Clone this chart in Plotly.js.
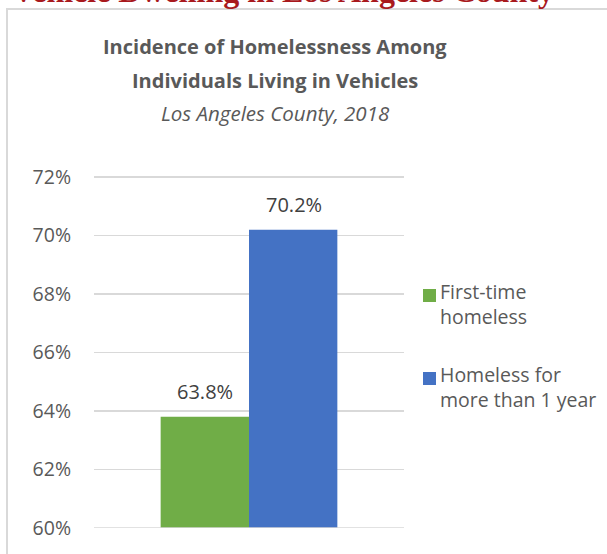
<!DOCTYPE html>
<html><head><meta charset="utf-8">
<script src="https://cdn.plot.ly/plotly-3.0.1.min.js"></script>
<style>html,body{margin:0;padding:0;background:#fff}#chart{width:607px;height:554px}</style>
</head><body><div id="chart"></div>
<script>
var categories = ["Vehicle dwellers"];
var seriesNames = ["First-time<br>homeless", "Homeless for<br>more than 1 year"];
var firstTime = [63.8];
var longTerm = [70.2];
var tickValues = [60, 62, 64, 66, 68, 70, 72];
var tickLabels = ["60%", "62%", "64%", "66%", "68%", "70%", "72%"];
var titleLines = ["Incidence of Homelessness Among", "Individuals Living in Vehicles"];
var subtitle = "Los Angeles County, 2018";
var headerText = "Vehicle Dwelling in Los Angeles County";

var colors = ["#70AD47", "#4472C4"];
var txt = "#595959";
var W = 607, H = 554;
function px(x){return x/W;}
function py(y){return (H-y)/H;}

var series = [firstTime, longTerm];
var traces = series.map(function(vals, i){
  return {type:"bar", x:categories, y:vals, name:seriesNames[i],
    marker:{color:colors[i], line:{width:0}}, showlegend:false, hoverinfo:"none"};
});

var annotations = [];
// header (cut off at top)
annotations.push({xref:"paper", yref:"paper", x:px(283), y:py(11), xanchor:"center", yanchor:"bottom",
  text:"<b>"+headerText+"</b>", showarrow:false,
  font:{family:"Liberation Serif", size:32, color:"#A8191D"}});
// titles
annotations.push({xref:"paper", yref:"paper", x:px(275), y:py(47), xanchor:"center", yanchor:"middle",
  text:"<b>"+titleLines[0]+"</b>", showarrow:false, font:{family:"Open Sans", size:20, color:txt}});
annotations.push({xref:"paper", yref:"paper", x:px(275), y:py(81), xanchor:"center", yanchor:"middle",
  text:"<b>"+titleLines[1]+"</b>", showarrow:false, font:{family:"Open Sans", size:20, color:txt}});
annotations.push({xref:"paper", yref:"paper", x:px(275), y:py(113), xanchor:"center", yanchor:"middle",
  text:"<i>"+subtitle+"</i>", showarrow:false, font:{family:"Open Sans", size:20.5, color:txt}});
// data labels
series.forEach(function(vals, i){
  vals.forEach(function(v, j){
    annotations.push({xref:"x", yref:"y", x:categories[j], y:v, xshift:(i===0?-44.5:44.5), yshift:25,
      xanchor:"center", yanchor:"middle", text:v.toFixed(1)+"%", showarrow:false,
      font:{family:"Open Sans", size:20, color:"#404040"}});
  });
});
// manual legend
var legendTops = [289, 372];
var shapes = [];
seriesNames.forEach(function(n, i){
  var t = legendTops[i];
  shapes.push({type:"rect", xref:"paper", yref:"paper", x0:px(423), x1:px(436), y0:py(t+13), y1:py(t),
    fillcolor:colors[i], line:{width:0}});
  annotations.push({xref:"paper", yref:"paper", x:px(438), y:py(t-13), xanchor:"left", yanchor:"top",
    align:"left", text:n, showarrow:false, font:{family:"Open Sans", size:19.5, color:txt}});
});
// frame
shapes.push({type:"rect", xref:"paper", yref:"paper", x0:px(7), x1:px(640), y0:py(600), y1:py(9),
  line:{color:"#D9D9D9", width:2}, fillcolor:"rgba(0,0,0,0)", layer:"below"});
// category axis line at the bottom of the value range
shapes.push({type:"line", xref:"x domain", yref:"y", x0:0, x1:1, y0:tickValues[0], y1:tickValues[0],
  line:{color:"#D9D9D9", width:1.5}, layer:"above"});

var layout = {
  width:W, height:H, margin:{l:0, r:0, t:0, b:0},
  paper_bgcolor:"#fff", plot_bgcolor:"#fff",
  barmode:"group", bargap:0.43, bargroupgap:0,
  xaxis:{domain:[px(94), px(404)], range:[-0.5, 0.5], type:"category", showticklabels:false, showgrid:false, zeroline:false, showline:false, fixedrange:true},
  yaxis:{domain:[py(528), py(171.15)], range:[60, 72.2], tickvals:tickValues, ticktext:tickLabels,
    showgrid:true, gridcolor:"#D9D9D9", gridwidth:1.3, zeroline:false, showline:false,
    ticklabelstandoff:22, tickfont:{family:"Open Sans", size:19.5, color:txt}},
  annotations:annotations, shapes:shapes, showlegend:false
};
Plotly.newPlot("chart", traces, layout, {displayModeBar:false, staticPlot:true});
</script></body></html>
